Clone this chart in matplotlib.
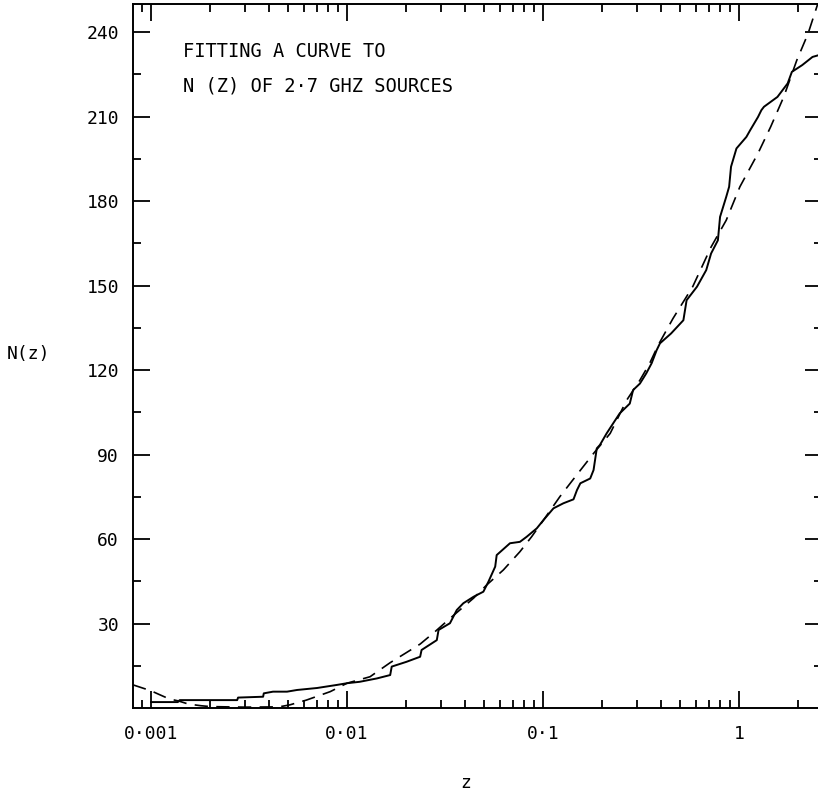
import matplotlib.pyplot as plt
from matplotlib.ticker import FixedLocator, LogLocator, NullFormatter

plt.rcParams['font.family'] = ['DejaVu Sans Mono', 'DejaVu Sans']

z_obs = [0.001, 0.00137, 0.00140, 0.00275, 0.00278, 0.00373, 0.00376, 0.00419,
         0.00494, 0.00556, 0.00703, 0.00889, 0.0100, 0.0116, 0.0142, 0.0166,
         0.0169, 0.0201, 0.0236, 0.0240, 0.0287, 0.0293, 0.0335, 0.0363,
         0.0392, 0.0442, 0.0496, 0.0526, 0.0570, 0.0580, 0.0678, 0.0762,
         0.0825, 0.0929, 0.1004, 0.113, 0.127, 0.143, 0.149, 0.155, 0.174,
         0.181, 0.188, 0.195, 0.211, 0.228, 0.246, 0.277, 0.288, 0.312, 0.336,
         0.358, 0.380, 0.395, 0.45, 0.52, 0.54, 0.61, 0.68, 0.72, 0.78, 0.80,
         0.86, 0.89, 0.91, 0.97, 1.09, 1.14, 1.25, 1.30, 1.34, 1.57, 1.77,
         1.86, 2.10, 2.37, 2.54, 2.70]
n_obs = [2.1, 2.1, 2.8, 2.8, 3.7, 4.0, 5.2, 5.8,
         5.8, 6.4, 7.1, 8.2, 8.8, 9.3, 10.5, 11.7,
         14.7, 16.4, 18.2, 20.6, 24.1, 27.7, 30.1, 34.8,
         37.2, 39.5, 41.3, 44.8, 50.2, 54.3, 58.5, 59.0,
         60.8, 63.8, 66.7, 70.9, 72.7, 74.1, 77.4, 79.8, 81.5,
         84.5, 92.2, 93.4, 97.5, 101.1, 104.6, 108.1, 112.9, 115.2, 118.8,
         122.4, 127.1, 129.5, 133.0, 137.7, 144.8, 149.6, 155.5, 161.4, 166.1, 174.4,
         181.5, 185.1, 192.2, 198.7, 202.8, 205.2, 209.9, 212.3, 213.5, 217.0, 221.8,
         225.9, 228.3, 231.2, 231.8, 232.0]

# fitted curve (dashed)
z_fit = [0.00081, 0.001, 0.0011, 0.00124, 0.00138, 0.00155, 0.0018, 0.002,
         0.003, 0.0045, 0.0051, 0.0062, 0.0082, 0.01, 0.0131, 0.0166, 0.0198,
         0.0236, 0.0281, 0.0335, 0.0442, 0.0516, 0.0627, 0.0762, 0.0874, 0.1,
         0.122, 0.146, 0.181, 0.22, 0.267, 0.312, 0.35, 0.387, 0.46, 0.58,
         0.72, 0.86, 1.01, 1.25, 1.45, 1.69, 1.97, 2.25, 2.52]
n_fit = [8.2, 6.1, 4.8, 3.2, 2.5, 1.4, 0.8, 0.5,
         0.3, 0.4, 1.1, 2.8, 5.8, 8.8, 11.1, 16.1, 19.4,
         22.7, 27.1, 31.8, 39.0, 43.7, 49.0, 55.5, 60.8, 66.5,
         75.1, 82.1, 90.4, 97.5, 109.3, 116.4, 122.4, 128.9, 138.3, 149.6,
         163.7, 173.2, 185.1, 197.0, 206.4, 217.0, 230.0, 239.5, 250.0]

x_ticks = [0.001, 0.01, 0.1, 1]
x_labels = ['0·001', '0·01', '0·1', '1']
y_ticks = [30, 60, 90, 120, 150, 180, 210, 240]

fig = plt.figure(figsize=(8.18, 7.99), dpi=100)
ax = fig.add_axes([0.1626, 0.1139, 0.8423, 0.8811])

ax.plot(z_obs, n_obs, color='black', lw=1.4, solid_joinstyle='round')
ax.plot(z_fit, n_fit, color='black', lw=1.2, dashes=(8, 5))

ax.set_xscale('log')
ax.set_xlim(0.000809, 2.65)
ax.set_ylim(0, 250)

ax.set_xticks(x_ticks)
ax.set_xticklabels(x_labels)
ax.xaxis.set_minor_locator(LogLocator(base=10, subs=range(2, 10), numticks=20))
ax.xaxis.set_minor_formatter(NullFormatter())
ax.set_yticks(y_ticks)
ax.yaxis.set_minor_locator(FixedLocator([15, 45, 75, 105, 135, 165, 195, 225]))

ax.tick_params(which='both', direction='in', top=True, right=True, width=1.3,
               labelsize=13)
ax.tick_params(which='major', length=12)
ax.tick_params(which='minor', length=6)
ax.tick_params(axis='x', pad=12)
ax.tick_params(axis='y', pad=10)
for s in ax.spines.values():
    s.set_linewidth(1.4)

ax.text(0.00145, 233, 'FITTING A CURVE TO', fontsize=13.5, va='center')
ax.text(0.00145, 221, 'N (Z) OF 2·7 GHZ SOURCES', fontsize=13.5, va='center')

fig.text(7 / 818, 1 - 354 / 799, 'N(z)', fontsize=13, ha='left', va='center')
fig.text(466 / 818, 1 - 783 / 799, 'z', fontsize=13, ha='center', va='center')

fig.savefig('out.png', dpi=100)
